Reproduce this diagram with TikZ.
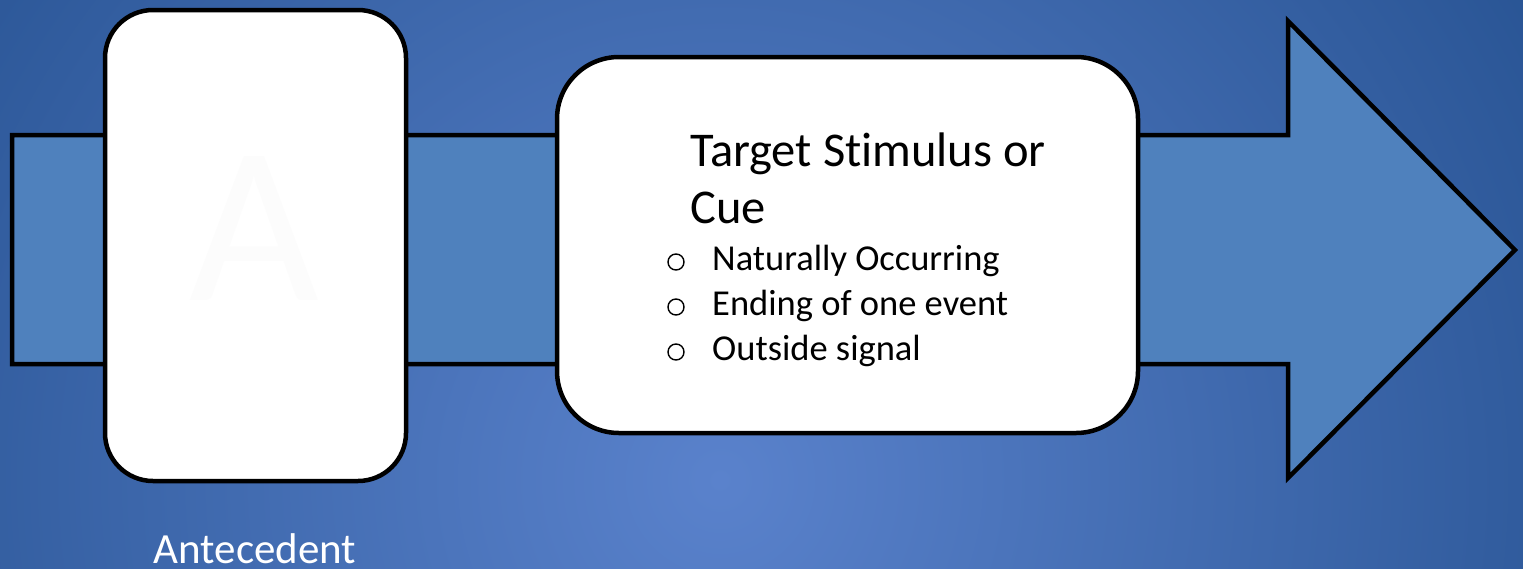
\documentclass[tikz,border=0pt]{standalone}
\usepackage{fontspec}
\setmainfont{Carlito}[Ligatures=NoCommon]
\definecolor{bgcenter}{HTML}{5A82CC}
\definecolor{bgedge}{HTML}{24508F}
\definecolor{shaftblue}{HTML}{4F81BD}
\definecolor{ghost}{HTML}{FCFCFC}
\tikzset{
  card/.style={draw=black, line width=4.5pt, fill=white, rounded corners=#1},
  flow/.style={draw=black, line width=4.5pt, fill=shaftblue, line join=miter},
  title/.style={font=\fontsize{48.5}{57}\selectfont, anchor=base west, inner sep=0pt},
  item/.style={font=\fontsize{36.5}{45}\selectfont, anchor=base west, inner sep=0pt},
  bulletmark/.style={draw=black, line width=1.4pt, circle, minimum size=16pt, inner sep=0pt},
}
\begin{document}
\begin{tikzpicture}[x=1pt, y=-1pt]
  \useasboundingbox (0,0) rectangle (1523,568);
  % backdrop with a soft radial glow
  \begin{scope}
    \clip (0,0) rectangle (1523,568);
    \shade[inner color=bgcenter, outer color=bgedge] (720,480) circle[radius=1050];
  \end{scope}
  % process arrow
  \draw[flow] (12,135) -- (1288,135) -- (1288,21) -- (1515,250)
              -- (1288,478) -- (1288,364) -- (12,364) -- cycle;
  % antecedent card
  \draw[card=48pt] (105,10) rectangle (406,481);
  \node[font=\fontsize{224}{224}\selectfont, text=ghost, anchor=base, inner sep=0pt] (ghostA) at (254,300) {A};
  \node[font=\fontsize{43}{48}\selectfont, text=white, anchor=base, inner sep=0pt] (antecedent) at (255,563) {Antecedent};
  % stimulus card
  \draw[card=62pt] (557,57) rectangle (1138,433);
  \node[title] (t1) at (690,166) {Target Stimulus or};
  \node[title] (t2) at (690,223) {Cue};
  \node[bulletmark] (b1) at (676,262) {};
  \node[bulletmark] (b2) at (676,307) {};
  \node[bulletmark] (b3) at (676,352) {};
  \node[item] (i1) at (712,270) {Naturally Occurring};
  \node[item] (i2) at (712,315) {Ending of one event};
  \node[item] (i3) at (712,360) {Outside signal};
\end{tikzpicture}
\end{document}
